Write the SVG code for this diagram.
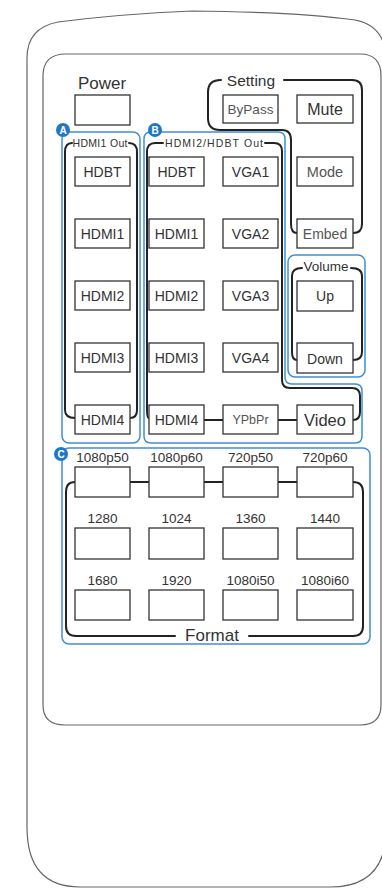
<svg xmlns="http://www.w3.org/2000/svg" width="382" height="889" viewBox="0 0 382 889">
<style>
.body{fill:#fff;stroke:#666;stroke-width:1.2}
.btn{fill:#fff;stroke:#333;stroke-width:1.3}
.bt{font-family:"Liberation Sans",Arial,sans-serif;fill:#333;text-anchor:middle}
.lt{fill:#555}
.br{fill:none;stroke:#222;stroke-width:2;stroke-linecap:round}
.bl{fill:none;stroke:#3f8fd2;stroke-width:1.5}
.bd{fill:#1f78c4}
.bdt{font-family:"Liberation Sans",Arial,sans-serif;font-weight:bold;font-size:10px;fill:#fff;text-anchor:middle}
.lbl{font-family:"Liberation Sans",Arial,sans-serif;fill:#333;text-anchor:middle}
.cn{fill:none;stroke:#222;stroke-width:2}
</style>
<rect width="382" height="889" fill="#fff"/>
<path class="body" d="M27,827 V58 Q27,28 58,22 Q120,14 192,11 Q300,12 355,20 Q386,26 386,60 V830 Q386,887 330,887 H80 Q27,887 27,827 Z"/>
<path class="body" d="M43,76 Q43,54 66,54 H360 Q381,54 381,76 V705 Q381,725 360,725 H65 Q43,725 43,705 Z"/>

<g id="frames">
<rect class="bl" x="62" y="132" width="78" height="311" rx="7"/>
<path class="bl" d="M151,132 H278 Q285,132 285,139 V377 Q285,384 292,384 H355 Q362,384 362,391 V436 Q362,443 355,443 H151 Q144,443 144,436 V139 Q144,132 151,132 Z"/>
<rect class="bl" x="288" y="255" width="77" height="122" rx="7"/>
<rect class="bl" x="62" y="448" width="308" height="196" rx="7"/>
<circle class="bd" cx="63" cy="130" r="7"/><text class="bdt" x="63" y="134">A</text>
<circle class="bd" cx="155" cy="130" r="7"/><text class="bdt" x="155" y="134">B</text>
<circle class="bd" cx="61" cy="454" r="7"/><text class="bdt" x="61" y="458">C</text>
</g>

<g id="brackets">
<path class="br" d="M221,80 Q208,80 208,92 V118 Q208,130 220,130 H282 Q291,130 291,140 V224 Q291,233 297,233"/>
<path class="br" d="M284,80 H352 Q362,80 362,90 V224 Q362,233 353,233"/>
<text class="lbl" x="251" y="86" font-size="15.5">Setting</text>
<path class="br" d="M72,143 Q65,143 65,152 V410 Q65,418 75,418"/>
<path class="br" d="M129,143 Q137,143 137,152 V410 Q137,418 130,418"/>
<text class="lbl" x="100" y="147" font-size="10.5" textLength="55">HDMI1 Out</text>
<path class="br" d="M163,143 H155 Q147,143 147,152 V410 Q147,418 149,418"/>
<path class="br" d="M265,143 H274 Q282,143 282,151 V380 Q282,388 290,388 H352 Q360,388 360,396 V412 Q360,420 353,420"/>
<text class="lbl" x="214" y="147" font-size="10.5" textLength="98">HDMI2/HDBT Out</text>
<path class="br" d="M302,268 Q292,268 292,276 V352 Q292,360 297,360"/>
<path class="br" d="M351,268 Q362,268 362,276 V352 Q362,360 353,360"/>
<text class="lbl" x="326" y="271" font-size="13.5">Volume</text>
<path class="br" d="M75,482 Q66,482 66,492 V626 Q66,636 76,636 H175"/>
<path class="br" d="M249,636 H353 Q363,636 363,626 V492 Q363,482 353,482"/>
<text class="lbl" x="212" y="641" font-size="17">Format</text>
</g>

<g id="connectors">
<path class="cn" d="M204,420 H223 M278,420 H297"/>
<path class="cn" d="M130,482 H149 M204,482 H223 M278,482 H297"/>
</g>

<g id="power"><text class="lbl" x="102" y="89" font-size="17">Power</text><rect class="btn" x="75" y="95" width="55" height="30"/></g>
<g id="bypass"><rect class="btn" x="223" y="95" width="55" height="28"/><text class="bt lt" x="250.5" y="114" font-size="13.5">ByPass</text></g>
<g id="mute"><rect class="btn" x="297" y="95" width="56" height="28"/><text class="bt" x="325" y="115" font-size="16">Mute</text></g>

<g id="a-hdbt"><rect class="btn" x="75" y="157" width="55" height="29"/><text class="bt" x="102.5" y="177" font-size="14">HDBT</text></g>
<g id="a-hdmi1"><rect class="btn" x="75" y="219" width="55" height="29"/><text class="bt" x="102.5" y="239" font-size="14">HDMI1</text></g>
<g id="a-hdmi2"><rect class="btn" x="75" y="281" width="55" height="29"/><text class="bt" x="102.5" y="301" font-size="14">HDMI2</text></g>
<g id="a-hdmi3"><rect class="btn" x="75" y="343" width="55" height="29"/><text class="bt" x="102.5" y="363" font-size="14">HDMI3</text></g>
<g id="a-hdmi4"><rect class="btn" x="75" y="405" width="55" height="29"/><text class="bt" x="102.5" y="425" font-size="14">HDMI4</text></g>

<g id="b-hdbt"><rect class="btn" x="149" y="157" width="55" height="29"/><text class="bt" x="176.5" y="177" font-size="14">HDBT</text></g>
<g id="b-hdmi1"><rect class="btn" x="149" y="219" width="55" height="29"/><text class="bt" x="176.5" y="239" font-size="14">HDMI1</text></g>
<g id="b-hdmi2"><rect class="btn" x="149" y="281" width="55" height="29"/><text class="bt" x="176.5" y="301" font-size="14">HDMI2</text></g>
<g id="b-hdmi3"><rect class="btn" x="149" y="343" width="55" height="29"/><text class="bt" x="176.5" y="363" font-size="14">HDMI3</text></g>
<g id="b-hdmi4"><rect class="btn" x="149" y="405" width="55" height="29"/><text class="bt" x="176.5" y="425" font-size="14">HDMI4</text></g>

<g id="vga1"><rect class="btn" x="223" y="157" width="55" height="29"/><text class="bt" x="250.5" y="177" font-size="14">VGA1</text></g>
<g id="vga2"><rect class="btn" x="223" y="219" width="55" height="29"/><text class="bt" x="250.5" y="239" font-size="14">VGA2</text></g>
<g id="vga3"><rect class="btn" x="223" y="281" width="55" height="29"/><text class="bt" x="250.5" y="301" font-size="14">VGA3</text></g>
<g id="vga4"><rect class="btn" x="223" y="343" width="55" height="29"/><text class="bt" x="250.5" y="363" font-size="14">VGA4</text></g>
<g id="ypbpr"><rect class="btn" x="223" y="405" width="55" height="29"/><text class="bt lt" x="250.5" y="424" font-size="12.5">YPbPr</text></g>

<g id="mode"><rect class="btn" x="297" y="157" width="56" height="29"/><text class="bt lt" x="325" y="177" font-size="14.5">Mode</text></g>
<g id="embed"><rect class="btn" x="297" y="219" width="56" height="29"/><text class="bt lt" x="325" y="239" font-size="14">Embed</text></g>
<g id="up"><rect class="btn" x="297" y="281" width="56" height="30"/><text class="bt" x="325" y="301" font-size="14">Up</text></g>
<g id="down"><rect class="btn" x="297" y="343" width="56" height="30"/><text class="bt" x="325" y="364" font-size="14">Down</text></g>
<g id="video"><rect class="btn" x="297" y="405" width="56" height="29"/><text class="bt" x="325" y="426" font-size="16.5">Video</text></g>

<g id="f-1080p50"><text class="lbl" x="102.5" y="462" font-size="13.5">1080p50</text><rect class="btn" x="75" y="467" width="55" height="30"/></g>
<g id="f-1080p60"><text class="lbl" x="176.5" y="462" font-size="13.5">1080p60</text><rect class="btn" x="149" y="467" width="55" height="30"/></g>
<g id="f-720p50"><text class="lbl" x="250.5" y="462" font-size="13.5">720p50</text><rect class="btn" x="223" y="467" width="55" height="30"/></g>
<g id="f-720p60"><text class="lbl" x="325" y="462" font-size="13.5">720p60</text><rect class="btn" x="297" y="467" width="56" height="30"/></g>
<g id="f-1280"><text class="lbl" x="102.5" y="523" font-size="13.5">1280</text><rect class="btn" x="75" y="528" width="55" height="31"/></g>
<g id="f-1024"><text class="lbl" x="176.5" y="523" font-size="13.5">1024</text><rect class="btn" x="149" y="528" width="55" height="31"/></g>
<g id="f-1360"><text class="lbl" x="250.5" y="523" font-size="13.5">1360</text><rect class="btn" x="223" y="528" width="55" height="31"/></g>
<g id="f-1440"><text class="lbl" x="325" y="523" font-size="13.5">1440</text><rect class="btn" x="297" y="528" width="56" height="31"/></g>
<g id="f-1680"><text class="lbl" x="102.5" y="585" font-size="13.5">1680</text><rect class="btn" x="75" y="590" width="55" height="30"/></g>
<g id="f-1920"><text class="lbl" x="176.5" y="585" font-size="13.5">1920</text><rect class="btn" x="149" y="590" width="55" height="30"/></g>
<g id="f-1080i50"><text class="lbl" x="250.5" y="585" font-size="13.5">1080i50</text><rect class="btn" x="223" y="590" width="55" height="30"/></g>
<g id="f-1080i60"><text class="lbl" x="325" y="585" font-size="13.5">1080i60</text><rect class="btn" x="297" y="590" width="56" height="30"/></g>
</svg>
